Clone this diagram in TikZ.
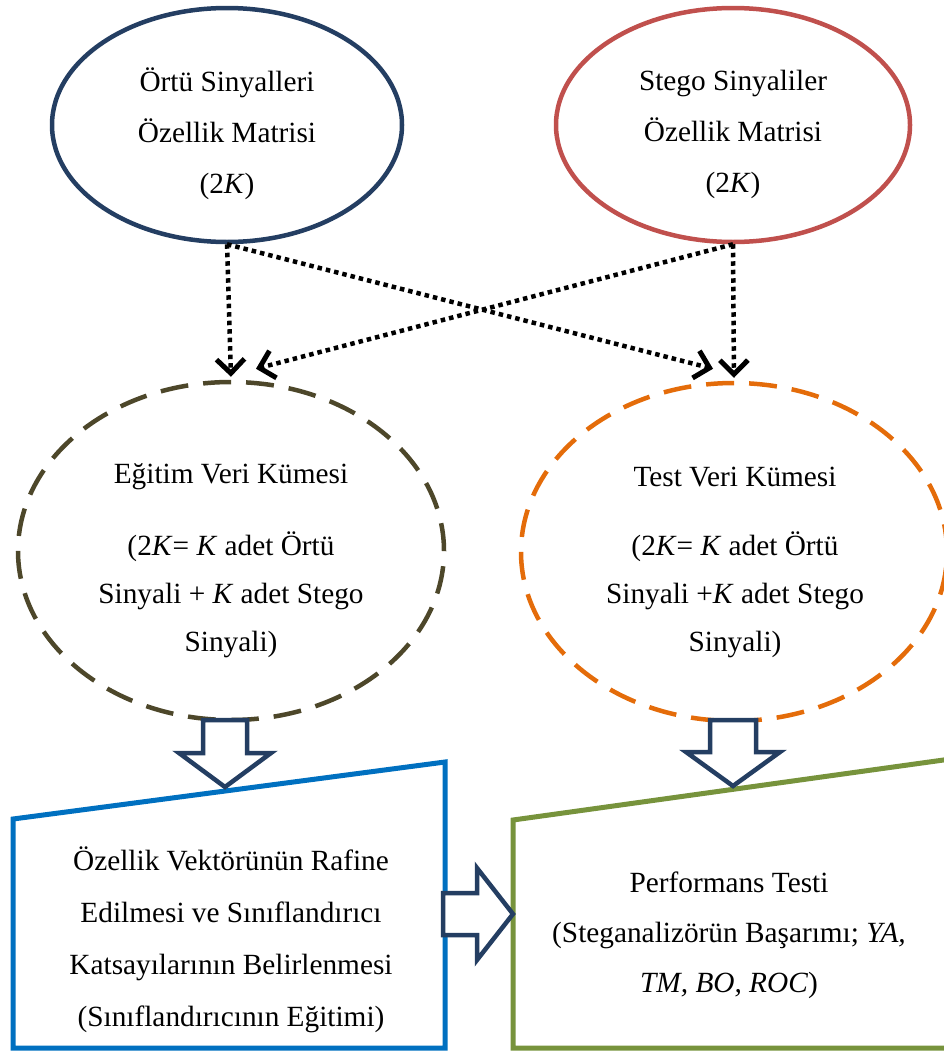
\documentclass[tikz,border=0pt]{standalone}
\usepackage{fontspec}
\setmainfont{Liberation Serif}
\usetikzlibrary{shapes.geometric,arrows.meta,calc}
\definecolor{navy}{RGB}{36,62,98}
\definecolor{stegored}{RGB}{192,80,77}
\definecolor{olivedk}{RGB}{77,71,42}
\definecolor{orng}{RGB}{228,108,10}
\definecolor{tblue}{RGB}{0,112,192}
\definecolor{tgreen}{RGB}{119,147,60}
\begin{document}
\begin{tikzpicture}[x=1pt,y=-1pt,
  txt/.style={align=center,font=\fontsize{29.3}{51}\selectfont,inner sep=0pt},
  solidell/.style={ellipse,draw,line width=4.5pt,minimum width=350pt,minimum height=234pt,inner sep=0pt},
  dashell/.style={ellipse,draw,line width=4.5pt,dash pattern=on 28pt off 15pt,minimum width=426pt,minimum height=338pt,inner sep=0pt},
  dotarrow/.style={line width=4.5pt,dash pattern=on 4.5pt off 4pt,-{Straight Barb[length=14pt,width=28pt,line width=5pt]}},
  blockarrow/.style={draw=navy,line width=4.5pt,line join=miter,fill=white},
  trap/.style={line width=5pt,line join=miter}
  ]
\clip (0,0) rectangle (944,1055);
% solid ellipses
\node[solidell,draw=navy] (e1) at (227,125) {};
\node[solidell,draw=stegored,minimum width=354pt] (e2) at (733,125) {};
% dashed ellipses
\node[dashell,draw=olivedk] (d1) at (231,551) {};
\node[dashell,draw=orng] (d2) at (734,552) {};
% texts
\node[txt] (t1) at (227,134) {Örtü Sinyalleri\\Özellik Matrisi\\(2\textit{K})};
\node[txt] (t2) at (733,134) {Stego Sinyaliler\\Özellik Matrisi\\(2\textit{K})};
\node[txt] (t3a) at (231,477) {Eğitim Veri Kümesi};
\node[txt,font=\fontsize{29.3}{48}\selectfont] (t3b) at (231,595) {(2\textit{K}= \textit{K} adet Örtü\\Sinyali + \textit{K} adet Stego\\Sinyali)};
\node[txt] (t4a) at (735,477) {Test Veri Kümesi};
\node[txt,font=\fontsize{29.3}{48}\selectfont] (t4b) at (735,595) {(2\textit{K}= \textit{K} adet Örtü\\Sinyali +\textit{K} adet Stego\\Sinyali)};
% dotted arrows
\coordinate (d1in) at ($(d1.north)+(25,-11)$);
\coordinate (d2in) at ($(d2.north)+(-21,-12)$);
\draw[dotarrow] (e1.south) -- ($(d1.north)+(0,-3)$);
\draw[dotarrow] (e2.south) -- ($(d2.north)+(0,-3)$);
\draw[dotarrow] (e1.south) -- (d2in);
\draw[dotarrow] (e2.south) -- (d1in);
% trapezoids
\coordinate (p1) at (13,819);
\coordinate (p2) at (445,762);
\coordinate (p3) at (445,1048);
\coordinate (p4) at (13,1048);
\draw[trap,draw=tblue] (p1) -- (p2) -- (p3) -- (p4) -- cycle;
\coordinate (q1) at (513,820);
\coordinate (q2) at (965,757);
\coordinate (q3) at (965,1048);
\coordinate (q4) at (513,1048);
\draw[trap,draw=tgreen] (q1) -- (q2) -- (q3) -- (q4) -- cycle;
\node[txt,font=\fontsize{29.3}{52}\selectfont] (t5) at (231,940) {Özellik Vektörünün Rafine\\Edilmesi ve Sınıflandırıcı\\Katsayılarının Belirlenmesi\\(Sınıflandırıcının Eğitimi)};
\node[txt,font=\fontsize{29.3}{50}\selectfont] (t6) at (729,935) {Performans Testi\\(Steganalizörün Başarımı; \textit{YA,}\\\textit{TM, BO, ROC})};
% block arrows
\draw[blockarrow] (203,720) -- (247,720) -- (247,753) -- (271,753) -- (225,787) -- (179,753) -- (203,753) -- cycle;
\draw[blockarrow] (710,720) -- (756,720) -- (756,752) -- (780,752) -- (733,786) -- (686,752) -- (710,752) -- cycle;
\draw[blockarrow] (443,893) -- (477,893) -- (477,868) -- (513,914) -- (477,960) -- (477,935) -- (443,935) -- cycle;
\end{tikzpicture}
\end{document}
